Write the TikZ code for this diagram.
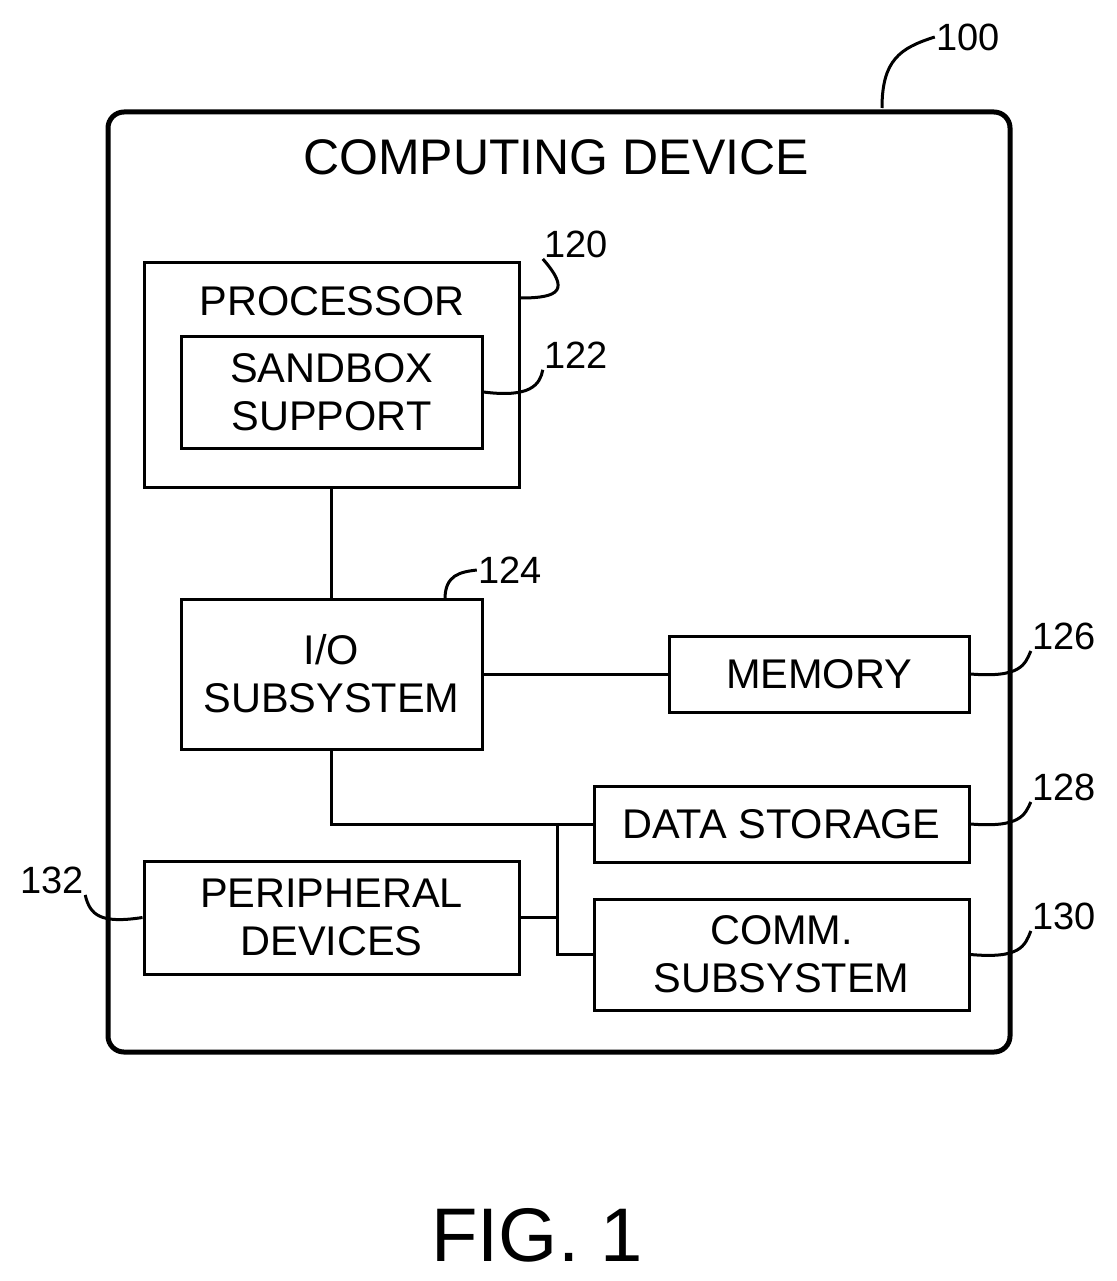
\documentclass[tikz,border=0pt]{standalone}
\usepackage{fontspec}
\setmainfont{Liberation Sans}
\tikzset{every picture/.style={line width=3pt}}
\tikzset{blk/.style={draw,inner sep=0pt,align=center,font=\fontsize{41.5}{48}\selectfont},
  num/.style={inner sep=0pt,font=\fontsize{38}{40}\selectfont}}
\begin{document}
\begin{tikzpicture}[x=1pt,y=1pt,yscale=-1,xscale=1]
\useasboundingbox (0,0) rectangle (1116,1281);

%Outer device
\draw [line width=5pt,rounded corners=16pt] (108,112) rectangle (1010,1052);
\node (dev) at (556,157) [inner sep=0pt,font=\fontsize{50}{52}\selectfont] {COMPUTING DEVICE};

% Boxes
\node [blk,minimum width=375pt,minimum height=225pt] (proc) at (331.5,374.5) {};
\node (proct) at (332,301) [inner sep=0pt,font=\fontsize{41.5}{48}\selectfont] {PROCESSOR};
\node [blk,minimum width=301pt,minimum height=112pt] (sand) at (331.5,392) {SANDBOX\\SUPPORT};
\node [blk,minimum width=301pt,minimum height=150pt] (io) at (331.5,674) {I/O\\SUBSYSTEM};
\node [blk,minimum width=300pt,minimum height=76pt] (mem) at (819,674) {MEMORY};
\node [blk,minimum width=375pt,minimum height=76pt] (stor) at (781.5,824) {DATA STORAGE};
\node [blk,minimum width=375pt,minimum height=111pt] (comm) at (781.5,954.5) {COMM.\\SUBSYSTEM};
\node [blk,minimum width=375pt,minimum height=113pt] (peri) at (331.5,917.5) {PERIPHERAL\\DEVICES};

% Connectors
\coordinate (bus) at (557,824);
\draw (proc.south) -- (io.north);
\draw (io.east) -- (mem.west);
\draw (io.south) |- (stor.west);
\draw (bus) |- (comm.west);
\draw (peri.east) -- (peri.east -| bus);

% Reference numerals
\node [num] (n100) at (968,37) {100};
\node [num] (n120) at (576,244) {120};
\node [num] (n122) at (576,355) {122};
\node [num] (n124) at (510,570) {124};
\node [num] (n126) at (1064,636) {126};
\node [num] (n128) at (1064,787) {128};
\node [num] (n130) at (1064,916) {130};
\node [num] (n132) at (52,880) {132};

\draw (882,108) .. controls (882,60) and (900,48) .. (n100.west);
\draw (proc.east |- 0,298) .. controls (560,298) and (570,290) .. (n120.south west);
\draw (sand.east) .. controls (530,398) and (540,385) .. (n122.south west);
\draw (445,599) .. controls (445,575) and (460,572) .. (n124.west);
\draw (mem.east) .. controls (1020,678) and (1025,665) .. (n126.south west);
\draw (stor.east) .. controls (1020,828) and (1025,815) .. (n128.south west);
\draw (comm.east) .. controls (1020,959) and (1025,946) .. (n130.south west);
\draw (peri.west) .. controls (100,924) and (90,915) .. (n132.south east);

\node (fig) at (537,1235) [inner sep=0pt,font=\fontsize{76}{80}\selectfont] {FIG. 1};
\end{tikzpicture}
\end{document}
